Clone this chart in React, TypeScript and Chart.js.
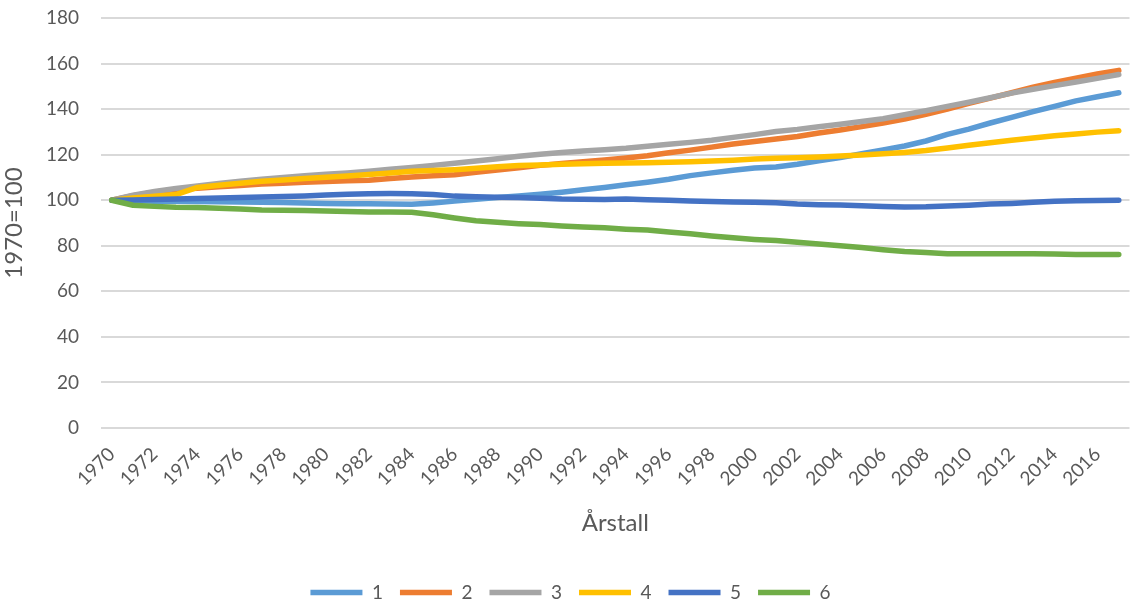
import React, { useEffect, useRef } from "react";
import { Chart, registerables } from "chart.js";

Chart.register(...registerables);

const years = [
  "1970", "1971", "1972", "1973", "1974", "1975", "1976", "1977", "1978", "1979",
  "1980", "1981", "1982", "1983", "1984", "1985", "1986", "1987", "1988", "1989",
  "1990", "1991", "1992", "1993", "1994", "1995", "1996", "1997", "1998", "1999",
  "2000", "2001", "2002", "2003", "2004", "2005", "2006", "2007", "2008", "2009",
  "2010", "2011", "2012", "2013", "2014", "2015", "2016", "2017",
];

const series1 = [
  100, 99.8, 99.6, 99.5, 99.4, 99.3, 99.2, 99.1, 99.0, 98.8,
  98.6, 98.5, 98.4, 98.3, 98.2, 98.8, 99.6, 100.4, 101.2, 101.9,
  102.6, 103.5, 104.6, 105.6, 106.8, 107.9, 109.2, 110.8, 112.0, 113.2,
  114.1, 114.6, 115.8, 117.3, 118.7, 120.4, 122.1, 123.8, 126.0, 128.9,
  131.2, 133.9, 136.4, 138.9, 141.2, 143.6, 145.4, 147.2,
];

const series2 = [
  100, 102.0, 103.5, 104.8, 105.3, 105.9, 106.5, 107.1, 107.5, 107.9,
  108.2, 108.5, 108.8, 109.5, 110.2, 110.7, 111.2, 112.3, 113.3, 114.3,
  115.3, 116.1, 116.9, 117.7, 118.5, 119.5, 120.8, 122.0, 123.3, 124.7,
  125.8, 126.9, 128.0, 129.5, 130.8, 132.3, 133.9, 135.6, 137.7, 140.0,
  142.5, 144.8, 147.2, 149.6, 151.7, 153.6, 155.4, 157.0,
];

const series3 = [
  100, 102.2, 103.8, 105.2, 106.2, 107.3, 108.3, 109.2, 110.0, 110.7,
  111.4, 112.0, 112.7, 113.6, 114.4, 115.3, 116.2, 117.2, 118.2, 119.3,
  120.2, 120.9, 121.6, 122.2, 122.8, 123.7, 124.6, 125.4, 126.3, 127.6,
  128.8, 130.2, 131.1, 132.3, 133.4, 134.6, 135.8, 137.5, 139.3, 141.2,
  143.0, 145.0, 147.0, 148.7, 150.3, 151.9, 153.5, 155.2,
];

const series4 = [
  100, 101.0, 101.8, 102.5, 105.6, 106.6, 107.5, 108.3, 108.9, 109.5,
  110.1, 110.6, 111.3, 112.0, 112.7, 113.0, 113.4, 114.0, 114.7, 115.2,
  115.5, 115.8, 116.0, 116.2, 116.3, 116.5, 116.7, 116.9, 117.2, 117.6,
  118.1, 118.4, 118.7, 119.0, 119.4, 119.9, 120.4, 121.0, 121.8, 122.9,
  124.1, 125.2, 126.3, 127.3, 128.3, 129.1, 129.9, 130.5,
];

const series5 = [
  100, 100.1, 100.3, 100.5, 100.8, 101.0, 101.2, 101.4, 101.6, 101.9,
  102.3, 102.6, 102.8, 102.9, 102.8, 102.5, 101.8, 101.5, 101.3, 101.2,
  100.9, 100.5, 100.4, 100.3, 100.5, 100.2, 100.0, 99.7, 99.4, 99.2,
  99.1, 98.9, 98.3, 98.0, 97.9, 97.6, 97.2, 97.0, 97.1, 97.5,
  97.8, 98.3, 98.6, 99.1, 99.5, 99.8, 99.9, 100.0,
];

const series6 = [
  100, 97.8, 97.3, 96.9, 96.8, 96.5, 96.1, 95.7, 95.6, 95.5,
  95.3, 95.0, 94.8, 94.8, 94.7, 93.6, 92.2, 91.0, 90.3, 89.7,
  89.3, 88.7, 88.2, 87.9, 87.3, 86.9, 86.0, 85.3, 84.3, 83.5,
  82.8, 82.3, 81.6, 80.8, 80.0, 79.2, 78.3, 77.5, 77.0, 76.5,
  76.5, 76.5, 76.5, 76.5, 76.4, 76.2, 76.2, 76.2,
];

const seriesNames = ["1", "2", "3", "4", "5", "6"];
const seriesColors = ["#5B9BD5", "#ED7D31", "#A5A5A5", "#FFC000", "#4472C4", "#70AD47"];
const seriesData = [series1, series2, series3, series4, series5, series6];

const yTitle = "1970=100";
const xTitle = "Årstall";

const FONT = "Lato";
const TEXT_COLOR = "#595959";

export default function App() {
  const canvasRef = useRef<HTMLCanvasElement | null>(null);

  useEffect(() => {
    document.body.style.margin = "0";
    const canvas = canvasRef.current;
    if (!canvas) return;

    const datasets = seriesData.map((data, i) => ({
      label: seriesNames[i],
      data,
      borderColor: seriesColors[i],
      backgroundColor: seriesColors[i],
      borderWidth: 5.5,
      borderCapStyle: "round" as const,
      borderJoinStyle: "round" as const,
      pointRadius: 0,
      pointHoverRadius: 0,
      pointStyle: "line" as const,
      tension: 0,
      fill: false,
      order: seriesData.length - 1 - i,
    }));

    const chart = new Chart(canvas, {
      type: "line",
      data: { labels: years, datasets },
      options: {
        animation: false,
        responsive: false,
        devicePixelRatio: 1,
        layout: { padding: { top: 18, left: 0, right: 9, bottom: 0 } },
        plugins: {
          tooltip: { enabled: false },
          legend: {
            position: "bottom",
            labels: {
              usePointStyle: true,
              pointStyleWidth: 52,
              boxHeight: 19,
              padding: 17,
              color: TEXT_COLOR,
              font: { family: FONT, size: 19 },
              sort: (a: any, b: any) => a.datasetIndex - b.datasetIndex,
            },
          },
        },
        scales: {
          x: {
            type: "category",
            offset: true,
            grid: { display: false, drawTicks: false },
            border: { display: false },
            ticks: {
              autoSkip: false,
              maxRotation: 45,
              minRotation: 45,
              padding: 15,
              color: TEXT_COLOR,
              font: { family: FONT, size: 19 },
              callback: (_v: any, idx: number) => (idx % 2 === 0 ? years[idx] : ""),
            },
            title: {
              display: true,
              text: xTitle,
              color: TEXT_COLOR,
              font: { family: FONT, size: 24 },
              padding: { top: 0, bottom: 28 },
            },
            afterFit: (scale: any) => {
              scale.height = 138;
            },
          },
          y: {
            min: 0,
            max: 180,
            grid: { color: "#d9d9d9", lineWidth: 2, drawTicks: false },
            border: { display: false },
            ticks: {
              stepSize: 20,
              padding: 22,
              color: TEXT_COLOR,
              font: { family: FONT, size: 19 },
            },
            title: {
              display: true,
              text: yTitle,
              color: TEXT_COLOR,
              font: { family: FONT, size: 24 },
              padding: { top: 0, bottom: 0 },
            },
            afterFit: (scale: any) => {
              scale.width = 101;
              scale.paddingTop = 0;
              scale.paddingBottom = 0;
            },
          },
        },
      },
    });

    return () => {
      chart.destroy();
    };
  }, []);

  return (
    <div style={{ width: 1135, height: 604, overflow: "hidden", position: "relative", background: "#fff" }}>
      <canvas ref={canvasRef} width={1150} height={612} style={{ display: "block" }} />
    </div>
  );
}
